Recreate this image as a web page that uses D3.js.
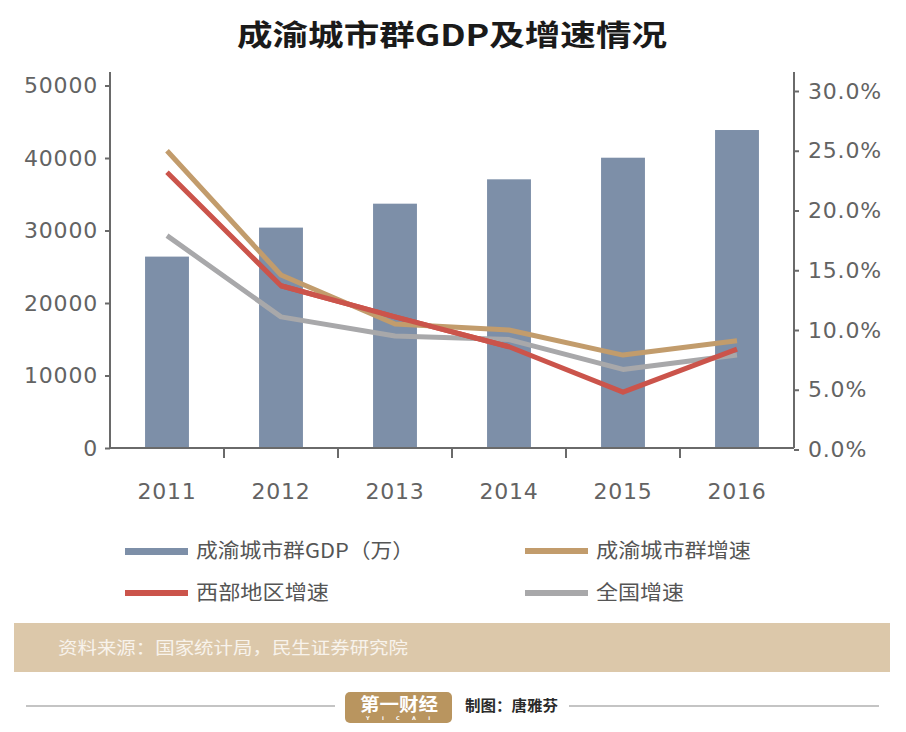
<!DOCTYPE html>
<html><head><meta charset="utf-8">
<script src="https://cdn.jsdelivr.net/npm/d3@7/dist/d3.min.js"></script>
<style>
html,body{margin:0;padding:0;background:#fff;}
svg{display:block;}
</style></head>
<body>
<svg id="chart" width="906" height="732"></svg>
<script>
const years = ['2011','2012','2013','2014','2015','2016'];
const gdp = [26400, 30400, 33700, 37060, 40040, 43860];
const cyGrowth = [25.0, 14.6, 10.5, 10.0, 7.9, 9.1];
const westGrowth = [23.2, 13.7, 11.1, 8.6, 4.8, 8.4];
const nationGrowth = [17.9, 11.1, 9.5, 9.2, 6.7, 7.9];
const leftTicks = [0, 10000, 20000, 30000, 40000, 50000];
const rightTicks = [0, 5, 10, 15, 20, 25, 30];
const legendItems = [
  {label:'成渝城市群GDP（万）', type:'bar', w:218},
  {label:'成渝城市群增速', type:'line', series:'cy', w:155},
  {label:'西部地区增速', type:'line', series:'west', w:133},
  {label:'全国增速', type:'line', series:'nation', w:88}
];

const colors = {bar:'#7d8fa8', cy:'#c29c6c', west:'#cb544b', nation:'#a8a8aa'};
const axisColor = '#6a6a6a', textColor = '#636363';
const CJK = '"Noto Sans CJK SC","Noto Sans",sans-serif';
const NUM = '"DejaVu Sans",sans-serif';

const svg = d3.select('#chart');

// title
svg.append('text').attr('x',237).attr('y',46)
  .attr('font-family',CJK).attr('font-weight','bold').attr('font-size',29)
  .attr('fill','#1a1a1a').attr('textLength',430).attr('lengthAdjust','spacingAndGlyphs')
  .text('成渝城市群GDP及增速情况');

const L = 110, R = 794, B = 448, T = 72;
const x = d3.scaleBand().domain(years).range([L, R]).paddingInner(0.615).paddingOuter(0.3075);
const xb = d3.scaleBand().domain(years).range([L, R]);
const yL = d3.scaleLinear().domain([0, 50000]).range([B, 85.5]);
const yR = d3.scaleLinear().domain([0, 30]).range([449.5, 91]);

// bars
svg.append('g').selectAll('rect').data(years).join('rect')
  .attr('x', d => x(d)).attr('width', x.bandwidth())
  .attr('y', (d,i) => yL(gdp[i])).attr('height', (d,i) => B - yL(gdp[i]))
  .attr('fill', colors.bar);

// lines
const line = d3.line().x((d,i) => xb(years[i]) + xb.bandwidth()/2).y(d => yR(d));
[['nation', nationGrowth], ['west', westGrowth], ['cy', cyGrowth]].forEach(([k, arr]) => {
  svg.append('path').datum(arr).attr('d', line)
    .attr('fill','none').attr('stroke', colors[k]).attr('stroke-width',5)
    .attr('stroke-linejoin','round');
});
// red crosses over gold in the middle years
svg.append('path').datum(westGrowth.slice(1,4)).attr('d', d3.line().x((d,i)=>xb(years[i+1])+xb.bandwidth()/2).y(d=>yR(d)))
  .attr('fill','none').attr('stroke', colors.west).attr('stroke-width',5).attr('stroke-linejoin','round');

// left axis
const gL = svg.append('g').attr('transform',`translate(${L},0)`)
  .call(d3.axisLeft(yL).tickValues(leftTicks).tickSize(5).tickPadding(7).tickFormat(d3.format('d')));
gL.select('.domain').attr('d', `M0,${T}V${B}`);
// right axis
const gR = svg.append('g').attr('transform',`translate(${R},0)`)
  .call(d3.axisRight(yR).tickValues(rightTicks).tickSize(5).tickPadding(9).tickFormat(d => d.toFixed(1) + '%'));
gR.select('.domain').attr('d', `M0,${T}V${B}`);
// bottom axis
const gB = svg.append('g').attr('transform',`translate(0,${B})`)
  .call(d3.axisBottom(xb).tickSize(0).tickPadding(43));
gB.select('.domain').attr('d', `M${L},0H${R}`);
gB.append('g').selectAll('line').data(years.slice(1)).join('line')
  .attr('x1', d => xb(d)).attr('x2', d => xb(d)).attr('y1',0).attr('y2',10)
  .attr('stroke', axisColor).attr('stroke-width',2);

[gL, gR, gB].forEach(g => {
  g.selectAll('.domain').attr('stroke', axisColor).attr('stroke-width',2);
  g.selectAll('.tick line').attr('stroke', axisColor).attr('stroke-width',2);
  g.selectAll('.tick text').attr('fill', textColor).attr('font-family', NUM)
    .attr('font-size',22).attr('letter-spacing','0.8px');
});
gB.selectAll('.tick text').attr('dy','0.35em');

// legend
const legPos = [[125,551],[525,551],[125,593],[525,593]];
legendItems.forEach((it, i) => {
  const [lx, ly] = legPos[i];
  const c = it.type === 'bar' ? colors.bar : colors[it.series];
  svg.append('rect').attr('x', lx).attr('y', ly - 3).attr('width', 63).attr('height', it.type==='bar'?7:6).attr('fill', c);
  svg.append('text').attr('x', lx + 71).attr('y', ly + 7)
    .attr('font-family', CJK).attr('font-size', 20).attr('fill', '#555')
    .attr('textLength', it.w).attr('lengthAdjust','spacingAndGlyphs')
    .text(it.label);
});

// source band
svg.append('rect').attr('x',14).attr('y',623).attr('width',876).attr('height',49).attr('fill','#dcc8aa');
svg.append('text').attr('x',58).attr('y',654)
  .attr('font-family', CJK).attr('font-size',17).attr('fill','#f8f3ec')
  .attr('textLength',350).attr('lengthAdjust','spacingAndGlyphs')
  .text('资料来源：国家统计局，民生证券研究院');

// footer
svg.append('line').attr('x1',26).attr('x2',335).attr('y1',706).attr('y2',706).attr('stroke','#c4c4c4').attr('stroke-width',2);
svg.append('line').attr('x1',569).attr('x2',879).attr('y1',706).attr('y2',706).attr('stroke','#c4c4c4').attr('stroke-width',2);
svg.append('rect').attr('x',345).attr('y',692).attr('width',107).attr('height',31).attr('rx',5).attr('fill','#b9955f');
svg.append('text').attr('x',360).attr('y',711)
  .attr('font-family', CJK).attr('font-weight','bold').attr('font-size',18).attr('fill','#fff')
  .attr('textLength',78).attr('lengthAdjust','spacingAndGlyphs').text('第一财经');
svg.append('text').attr('x',366).attr('y',720)
  .attr('font-family', NUM).attr('font-weight','bold').attr('font-size',5).attr('fill','#fff')
  .attr('textLength',64).attr('lengthAdjust','spacing').text('YICAI');
svg.append('text').attr('x',465).attr('y',711)
  .attr('font-family', CJK).attr('font-weight','bold').attr('font-size',15).attr('fill','#2a2a2a')
  .attr('textLength',93).attr('lengthAdjust','spacingAndGlyphs').text('制图：唐雅芬');
</script>
</body></html>
